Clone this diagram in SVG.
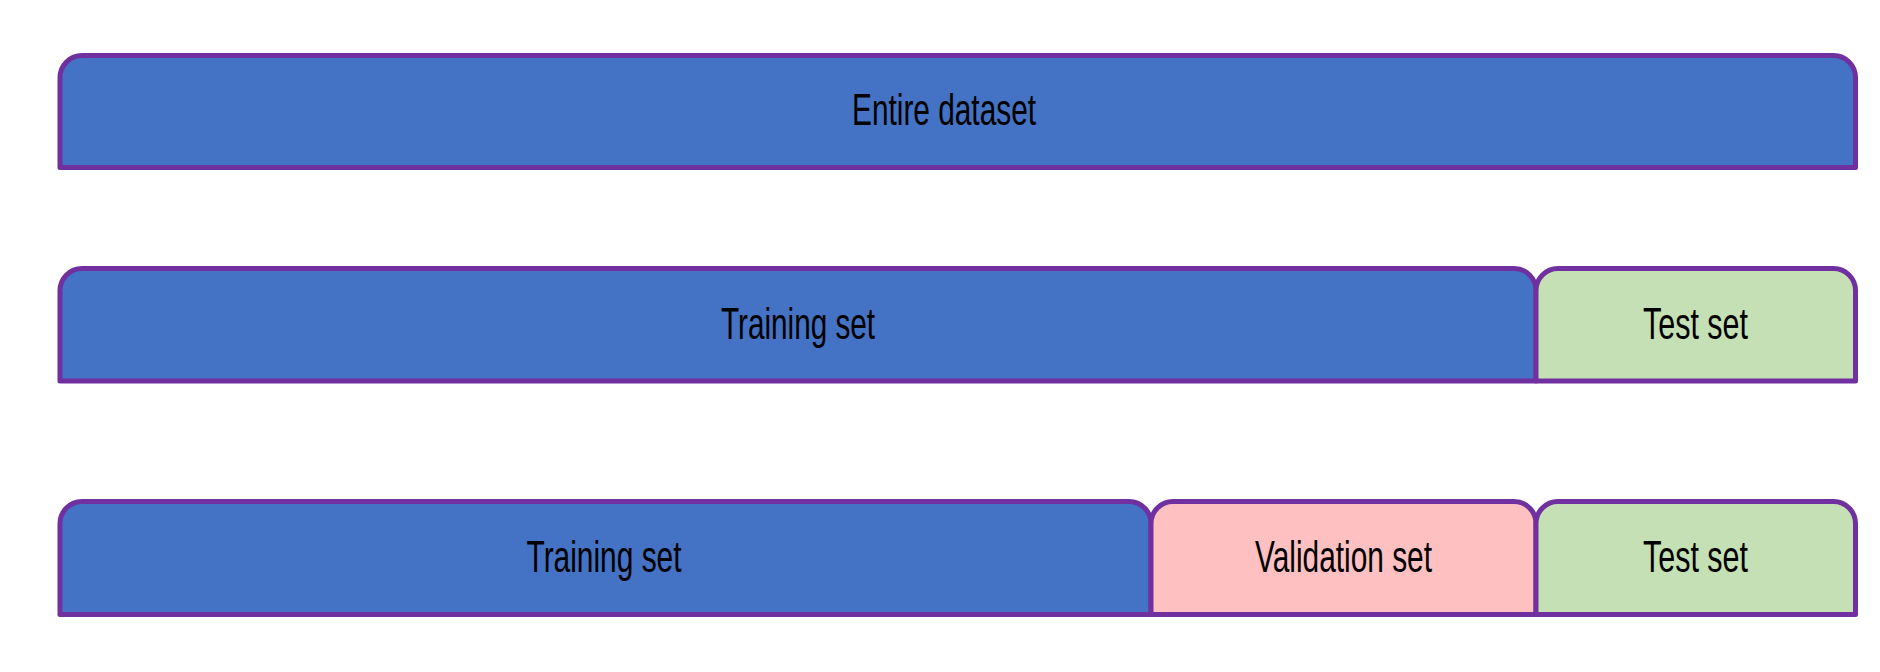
<svg xmlns="http://www.w3.org/2000/svg" width="1880" height="672" viewBox="0 0 1880 672">
<style>
.seg{stroke:#7030A0;stroke-width:5;stroke-linejoin:round}
.blue{fill:#4472C4}
.green{fill:#C5E0B4}
.pink{fill:#FFC0C2}
.lbl{font-family:"Liberation Sans","DejaVu Sans",sans-serif;font-size:45px;fill:#000;text-anchor:middle}
</style>
<rect width="1880" height="672" fill="#fff"/>
<g id="entire">
<path class="seg blue" d="M60,167.5 V77.5 A22,22 0 0 1 82,55.5 H1833.5 A22,22 0 0 1 1855.5,77.5 V167.5 Z"/>
<text class="lbl" x="944" y="125" textLength="184" lengthAdjust="spacingAndGlyphs">Entire dataset</text>
</g>
<g id="train2">
<path class="seg blue" d="M60,381 V290.5 A22,22 0 0 1 82,268.5 H1514 A22,22 0 0 1 1536,290.5 V381 Z"/>
<text class="lbl" x="798" y="339" textLength="154" lengthAdjust="spacingAndGlyphs">Training set</text>
</g>
<g id="test2">
<path class="seg green" d="M1536,381 V290.5 A22,22 0 0 1 1558,268.5 H1833.5 A22,22 0 0 1 1855.5,290.5 V381 Z"/>
<text class="lbl" x="1695.5" y="339" textLength="105" lengthAdjust="spacingAndGlyphs">Test set</text>
</g>
<g id="train3">
<path class="seg blue" d="M60,614.5 V523.5 A22,22 0 0 1 82,501.5 H1129 A22,22 0 0 1 1151,523.5 V614.5 Z"/>
<text class="lbl" x="604" y="572" textLength="155" lengthAdjust="spacingAndGlyphs">Training set</text>
</g>
<g id="val3">
<path class="seg pink" d="M1151,614.5 V523.5 A22,22 0 0 1 1173,501.5 H1514 A22,22 0 0 1 1536,523.5 V614.5 Z"/>
<text class="lbl" x="1343.5" y="572" textLength="177" lengthAdjust="spacingAndGlyphs">Validation set</text>
</g>
<g id="test3">
<path class="seg green" d="M1536,614.5 V523.5 A22,22 0 0 1 1558,501.5 H1833.5 A22,22 0 0 1 1855.5,523.5 V614.5 Z"/>
<text class="lbl" x="1695.5" y="572" textLength="105" lengthAdjust="spacingAndGlyphs">Test set</text>
</g>
<g id="connectors"></g>
</svg>
